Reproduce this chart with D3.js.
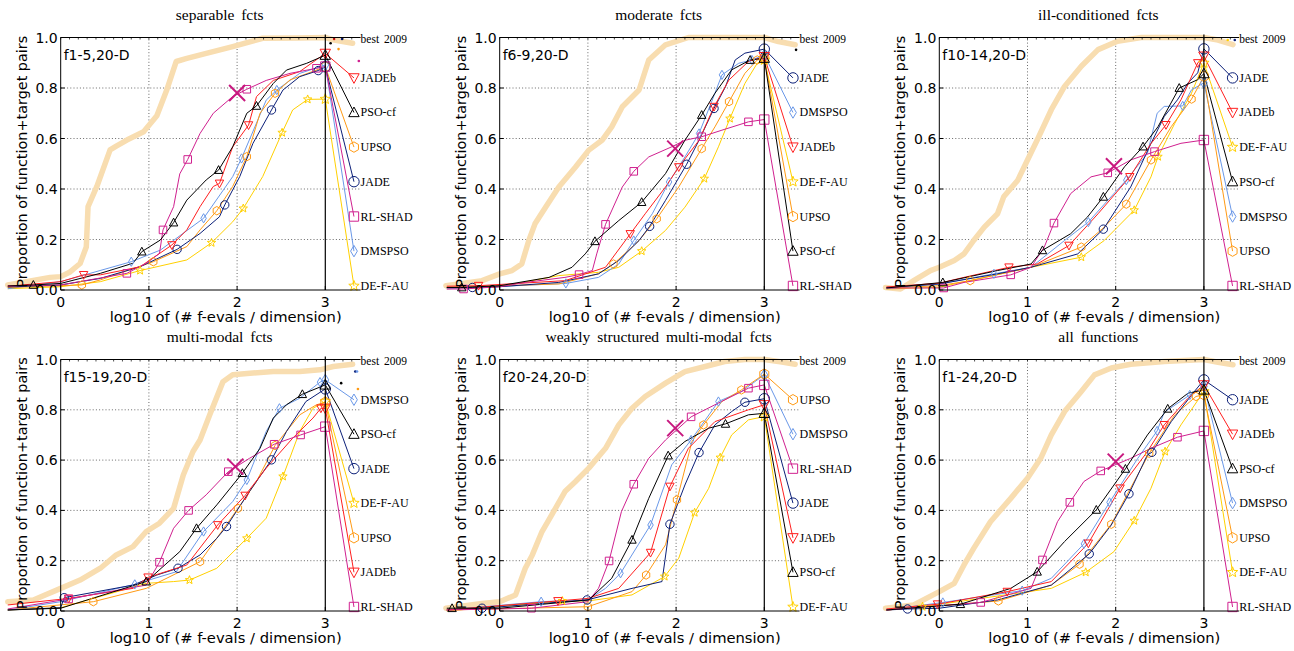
<!DOCTYPE html>
<html><head><meta charset="utf-8">
<script src="https://cdn.jsdelivr.net/npm/d3@7"></script>
<style>body{margin:0;background:#fff}svg{display:block}</style>
</head><body><svg id="c" width="1294" height="651"></svg>
<script>
// ---------------- data ----------------
const titles = ["separable fcts","moderate fcts","ill-conditioned fcts","multi-modal fcts","weakly structured multi-modal fcts","all functions"];
const tags = ["f1-5,20-D","f6-9,20-D","f10-14,20-D","f15-19,20-D","f20-24,20-D","f1-24,20-D"];
const algNames = ["JADE","JADEb","PSO-cf","UPSO","RL-SHAD","DMSPSO","DE-F-AU"];
const xTicks = [0,1,2,3];
const yTicks = [0,0.2,0.4,0.6,0.8,1.0];
const yTickLabels = ["0.0","0.2","0.4","0.6","0.8","1.0"];
const xLabel = "log10 of (# f-evals / dimension)";
const yLabel = "Proportion of function+target pairs";
const refLabel = "best 2009";

// legend order per panel, top to bottom
const legendOrder = [
  ["JADEb","PSO-cf","UPSO","JADE","RL-SHAD","DMSPSO","DE-F-AU"],
  ["JADE","DMSPSO","JADEb","DE-F-AU","UPSO","PSO-cf","RL-SHAD"],
  ["JADE","JADEb","DE-F-AU","PSO-cf","DMSPSO","UPSO","RL-SHAD"],
  ["DMSPSO","PSO-cf","JADE","DE-F-AU","UPSO","JADEb","RL-SHAD"],
  ["UPSO","DMSPSO","RL-SHAD","JADE","JADEb","PSO-cf","DE-F-AU"],
  ["JADE","JADEb","PSO-cf","DMSPSO","UPSO","DE-F-AU","RL-SHAD"]
];

// best 2009 reference curve per panel [log10 evals/dim, proportion]
const best2009 = [
  [[-0.6,0.02],[-0.12,0.05],[0,0.053],[0.1,0.07],[0.22,0.105],[0.29,0.17],[0.31,0.33],[0.41,0.41],[0.56,0.555],[0.63,0.57],[0.75,0.594],[0.94,0.627],[1.09,0.69],[1.2,0.79],[1.31,0.905],[1.43,0.917],[1.65,0.937],[1.95,0.964],[2.29,0.997],[2.7,0.998],[3.0,1.0],[3.1,0.99],[3.31,0.977]],
  [[-0.61,0.017],[-0.2,0.037],[0,0.064],[0.14,0.077],[0.25,0.103],[0.33,0.196],[0.4,0.262],[0.52,0.328],[0.67,0.408],[0.86,0.487],[1.01,0.554],[1.16,0.593],[1.27,0.646],[1.39,0.726],[1.58,0.792],[1.69,0.911],[1.88,0.971],[2.14,1.0],[2.63,1.0],[3.0,1.0],[3.16,0.984],[3.35,0.971]],
  [[-0.61,0.01],[-0.44,0.004],[-0.29,0.037],[-0.1,0.077],[0,0.09],[0.17,0.117],[0.28,0.143],[0.39,0.196],[0.51,0.249],[0.66,0.302],[0.73,0.369],[0.89,0.435],[1.0,0.515],[1.11,0.594],[1.27,0.714],[1.42,0.806],[1.61,0.886],[1.8,0.952],[2.02,0.985],[2.29,1.0],[3.0,1.0],[3.16,0.99],[3.33,0.972]],
  [[-0.6,0.037],[-0.31,0.044],[0,0.09],[0.22,0.123],[0.45,0.17],[0.63,0.223],[0.82,0.256],[0.97,0.316],[1.12,0.349],[1.28,0.408],[1.39,0.541],[1.5,0.634],[1.58,0.68],[1.69,0.78],[1.84,0.912],[1.95,0.939],[2.18,0.946],[2.41,0.952],[2.71,0.952],[2.94,0.959],[3.09,0.972],[3.31,0.981]],
  [[-0.61,0.011],[-0.2,0.03],[0,0.037],[0.18,0.064],[0.29,0.17],[0.37,0.223],[0.48,0.316],[0.59,0.382],[0.74,0.475],[0.86,0.515],[1.01,0.568],[1.2,0.647],[1.35,0.74],[1.5,0.806],[1.65,0.853],[1.88,0.906],[2.1,0.952],[2.33,0.972],[2.55,0.992],[2.78,1.0],[3.0,1.0],[3.2,0.99],[3.35,0.981]],
  [[-0.61,0.011],[-0.29,0.024],[0,0.077],[0.17,0.11],[0.28,0.183],[0.39,0.249],[0.58,0.355],[0.81,0.448],[1.0,0.528],[1.15,0.607],[1.27,0.7],[1.42,0.793],[1.61,0.873],[1.76,0.939],[1.95,0.966],[2.17,0.981],[2.55,0.992],[3.0,1.0],[3.16,0.989],[3.33,0.979]]
];

// algorithm curves: per panel list of [x, y, marker?]
const JADE = [
  [[-0.6,0.012],[0,0.02],[0.45,0.046],[0.9,0.092],[1.32,0.161,1],[1.58,0.224],[1.8,0.29],[1.86,0.337,1],[2.03,0.449],[2.18,0.581],[2.39,0.713,1],[2.52,0.792],[2.71,0.845],[2.92,0.869,1],[3.0,0.884]],
  [[-0.6,0.01],[-0.31,0.01,1],[0,0.013],[0.67,0.03],[1.12,0.064],[1.35,0.117],[1.58,0.196],[1.70,0.252,1],[1.88,0.355],[2.12,0.498,1],[2.26,0.593],[2.43,0.719,1],[2.56,0.805],[2.67,0.911],[2.78,0.938],[3.0,0.954]],
  [[-0.6,0.01],[0,0.024],[0.66,0.064],[1.04,0.09],[1.57,0.143],[1.86,0.241,1],[2.17,0.408],[2.4,0.58],[2.55,0.687],[2.7,0.753],[2.82,0.82],[2.93,0.86],[3.0,0.955]],
  [[-0.6,0.004],[0,0.013],[0.04,0.053,1],[0.82,0.103],[1.09,0.143],[1.33,0.17,1],[1.58,0.223],[1.77,0.289],[1.88,0.336,1],[2.14,0.475],[2.39,0.601,1],[2.56,0.714],[2.78,0.833],[3.0,0.883]],
  [[-0.6,0.004],[-0.2,0.011,1],[0.99,0.044,1],[1.5,0.09],[1.84,0.117],[1.93,0.345,1],[2.1,0.501],[2.26,0.63,1],[2.44,0.74],[2.63,0.793],[2.78,0.83,1],[3.0,0.844]],
  [[-0.6,0.004],[-0.36,0.008,1],[0,0.011],[0.66,0.044],[1.27,0.103],[1.7,0.227,1],[1.95,0.342],[2.15,0.466,1],[2.36,0.621],[2.41,0.631,1],[2.63,0.753],[2.86,0.859],[3.0,0.919]]
];
const JADEb = [
  [[-0.6,0.015],[0,0.033],[0.26,0.06,1],[0.45,0.06],[0.9,0.092],[1.26,0.178,1],[1.43,0.238],[1.58,0.33],[1.73,0.41],[1.8,0.422,1],[1.95,0.567],[2.13,0.653,1],[2.22,0.766],[2.41,0.83],[2.71,0.865],[3.0,0.937]],
  [[-0.6,0.015],[-0.24,0.017,1],[0.74,0.037],[1.2,0.09],[1.48,0.222,1],[1.65,0.302],[1.88,0.408],[2.03,0.487,1],[2.26,0.593],[2.43,0.726,1],[2.6,0.832],[2.82,0.905],[3.0,0.924]],
  [[-0.6,0.012],[0,0.027],[0.28,0.05],[0.79,0.09,1],[1.11,0.103],[1.47,0.176,1],[1.8,0.302],[2.16,0.448,1],[2.4,0.58],[2.57,0.654,1],[2.74,0.753],[2.93,0.899,1],[3.0,0.926]],
  [[-0.6,0.024],[0.09,0.05,1],[0.82,0.09],[0.99,0.134,1],[1.43,0.183],[1.78,0.342,1],[2.09,0.459,1],[2.33,0.568],[2.63,0.687],[2.86,0.767],[2.95,0.806,1],[3.0,0.806]],
  [[-0.6,0.004],[0.66,0.04,1],[1.0,0.05],[1.35,0.09],[1.71,0.232,1],[1.93,0.495,1],[2.14,0.647],[2.44,0.753],[2.82,0.8],[3.0,0.82]],
  [[-0.6,0.008],[-0.02,0.027,1],[0.77,0.077,1],[1.27,0.117],[1.69,0.269,1],[2.05,0.488,1],[2.36,0.634],[2.55,0.74,1],[2.82,0.846],[3.0,0.899]]
];
const PSOcf = [
  [[-0.6,0.016],[-0.31,0.02,1],[0,0.026],[0.45,0.066],[0.82,0.106],[0.92,0.152,1],[1.13,0.198],[1.28,0.267,1],[1.43,0.356],[1.65,0.436],[1.79,0.475,1],[1.95,0.567],[2.11,0.70],[2.22,0.729,1],[2.41,0.818],[2.56,0.871],[2.79,0.898],[3.0,0.93]],
  [[-0.6,0.01],[-0.43,0.01,1],[0,0.017],[0.56,0.05],[0.82,0.09],[0.97,0.143],[1.08,0.193,1],[1.35,0.275],[1.61,0.348,1],[1.88,0.461],[2.10,0.593],[2.29,0.693,1],[2.44,0.779],[2.63,0.872],[2.84,0.911,1],[3.0,0.918]],
  [[-0.6,0.008],[0.04,0.03,1],[0.66,0.077],[1.04,0.103],[1.17,0.157,1],[1.49,0.223],[1.68,0.289],[1.86,0.369,1],[2.1,0.488],[2.31,0.568,1],[2.48,0.647],[2.72,0.8,1],[2.93,0.833],[3.0,0.857]],
  [[-0.6,0.004],[0,0.011],[0.97,0.117,1],[1.35,0.236],[1.54,0.329,1],[1.77,0.422],[2.06,0.548,1],[2.26,0.647],[2.41,0.767],[2.56,0.82],[2.74,0.862,1],[3.0,0.899]],
  [[-0.6,0.011],[-0.54,0.011,1],[0,0.011],[1.01,0.044],[1.27,0.13],[1.5,0.283,1],[1.69,0.448],[1.91,0.618,1],[2.1,0.674],[2.37,0.727],[2.56,0.744,1],[2.82,0.78],[3.0,0.786]],
  [[-0.6,0.004],[0.24,0.027,1],[0.81,0.09],[1.11,0.156,1],[1.42,0.276],[1.78,0.402,1],[2.11,0.565,1],[2.36,0.7],[2.59,0.804,1],[2.82,0.866],[3.0,0.879]]
];
const UPSO = [
  [[-0.6,0.01],[0.24,0.02,1],[0.45,0.04],[1.05,0.112,1],[1.43,0.172],[1.58,0.238],[1.77,0.314,1],[1.95,0.41],[2.11,0.528,1],[2.26,0.70],[2.43,0.779,1],[2.6,0.832],[3.0,0.884]],
  [[-0.6,0.01],[0.67,0.024],[1.12,0.064],[1.29,0.103,1],[1.58,0.196],[1.78,0.282,1],[2.03,0.408],[2.29,0.56,1],[2.44,0.646],[2.6,0.746,1],[2.78,0.858],[2.92,0.911,1],[3.0,0.918]],
  [[-0.6,0.008],[0,0.017],[0.35,0.037,1],[1.04,0.09],[1.61,0.17,1],[1.87,0.249],[2.12,0.34,1],[2.4,0.515,1],[2.63,0.647],[2.86,0.756,1],[3.0,0.846]],
  [[-0.6,0.004],[0.37,0.037,1],[0.97,0.09],[1.58,0.196,1],[2.01,0.408,1],[2.22,0.515],[2.43,0.658,1],[2.71,0.78],[2.9,0.82],[3.0,0.83]],
  [[-0.6,0.004],[1.0,0.017,1],[1.5,0.077],[1.66,0.143,1],[1.88,0.263],[2.01,0.442,1],[2.18,0.674],[2.31,0.74,1],[2.52,0.833],[2.74,0.879,1],[3.0,0.942]],
  [[-0.6,0.004],[0.67,0.04,1],[1.27,0.103],[1.59,0.186,1],[1.95,0.345,1],[2.38,0.627,1],[2.67,0.78],[2.91,0.853,1],[3.0,0.86]]
];
const RLSHAD = [
  [[-0.6,0.016],[0,0.02],[0.75,0.066,1],[0.97,0.106],[1.12,0.145],[1.16,0.238,1],[1.28,0.33],[1.35,0.46],[1.44,0.517,1],[1.58,0.62],[1.73,0.70],[1.95,0.766],[2.11,0.795,1],[2.33,0.83],[2.6,0.858],[2.9,0.878,1],[3.0,0.885]],
  [[-0.6,0.004],[-0.41,0.004,1],[0,0.013],[0.29,0.03],[0.74,0.05],[0.9,0.061,1],[1.05,0.077],[1.10,0.143],[1.2,0.26,1],[1.39,0.408],[1.52,0.47,1],[1.69,0.527],[1.95,0.567],[2.1,0.593],[2.29,0.607,1],[2.52,0.633],[2.82,0.666,1],[3.0,0.675]],
  [[-0.6,0.008],[0.05,0.008,1],[0.28,0.03],[0.81,0.06,1],[1.04,0.09],[1.19,0.17],[1.3,0.265,1],[1.49,0.382],[1.72,0.448],[1.91,0.464,1],[2.17,0.515],[2.44,0.548,1],[2.74,0.581],[3.0,0.594]],
  [[-0.6,0.008],[0.09,0.048,1],[0.97,0.103],[1.12,0.194,1],[1.28,0.329],[1.45,0.4,1],[1.65,0.462],[1.9,0.554,1],[2.14,0.607],[2.42,0.663,1],[2.72,0.7,1],[3.0,0.733]],
  [[-0.6,0.004],[0.36,0.011,1],[1.0,0.037],[1.12,0.09],[1.24,0.199,1],[1.38,0.395],[1.52,0.504,1],[1.69,0.607],[1.88,0.68],[2.17,0.772,1],[2.44,0.82],[2.82,0.886,1],[3.0,0.899]],
  [[-0.6,0.004],[0.47,0.034,1],[1.04,0.09],[1.17,0.203,1],[1.34,0.355],[1.48,0.432,1],[1.64,0.515],[1.83,0.557,1],[2.17,0.607],[2.4,0.647],[2.7,0.691,1],[3.0,0.716]]
];
const DMSPSO = [
  [[-0.6,0.005],[0,0.033],[0.8,0.112,1],[1.13,0.158],[1.62,0.284,1],[1.95,0.449],[2.05,0.521,1],[2.33,0.752],[2.45,0.792,1],[2.71,0.858],[3.0,0.891]],
  [[-0.6,0.005],[0.75,0.026,1],[1.12,0.05],[1.35,0.103],[1.52,0.196,1],[1.73,0.302],[1.92,0.428,1],[2.10,0.527],[2.26,0.62,1],[2.41,0.752],[2.52,0.852,1],[2.71,0.898],[2.86,0.911,1],[3.0,0.931]],
  [[-0.6,0.005],[0,0.024],[0.62,0.064,1],[1.04,0.09],[1.42,0.196],[1.69,0.269,1],[1.91,0.355],[2.12,0.435,1],[2.36,0.541],[2.47,0.7],[2.55,0.727],[2.76,0.729,1],[2.86,0.793],[3.0,0.82]],
  [[-0.6,0.004],[0,0.037],[0.84,0.106,1],[1.31,0.156],[1.62,0.316,1],[1.95,0.435],[2.11,0.521,1],[2.33,0.714],[2.48,0.806,1],[2.71,0.846],[2.94,0.91,1],[3.0,0.919]],
  [[-0.6,0.004],[0.47,0.037,1],[1.0,0.044],[1.2,0.09],[1.37,0.15,1],[1.57,0.263],[1.71,0.342,1],[1.95,0.581],[2.17,0.68,1],[2.48,0.833,1],[2.74,0.873],[3.0,0.939]],
  [[-0.6,0.004],[0.04,0.034,1],[0.94,0.081,1],[1.27,0.13],[1.64,0.267,1],[1.93,0.432,1],[2.25,0.607],[2.47,0.716,1],[2.55,0.79],[2.84,0.859,1],[3.0,0.893]]
];
const DEFAU = [
  [[-0.6,0.005],[0,0.013],[0.45,0.033],[0.9,0.077,1],[1.43,0.119],[1.71,0.187,1],[1.95,0.27],[2.07,0.323,1],[2.29,0.449],[2.51,0.623,1],[2.63,0.713],[2.8,0.755,1],[3.0,0.756]],
  [[-0.6,0.005],[0,0.013],[0.67,0.057],[1.12,0.07],[1.35,0.09],[1.61,0.154,1],[1.88,0.236],[2.10,0.328],[2.32,0.441,1],[2.48,0.567],[2.61,0.679,1],[2.78,0.818],[2.92,0.898],[3.0,0.911]],
  [[-0.6,0.004],[0,0.011],[1.04,0.09],[1.61,0.13,1],[1.87,0.196],[2.21,0.316,1],[2.4,0.448],[2.48,0.528,1],[2.67,0.66],[2.86,0.78],[3.0,0.899]],
  [[-0.6,0.004],[0,0.013],[0.97,0.11],[1.28,0.117],[1.46,0.123,1],[1.77,0.17],[2.11,0.289,1],[2.33,0.369],[2.52,0.535,1],[2.71,0.714],[2.86,0.806],[3.0,0.833]],
  [[-0.6,0.0],[0.71,0.04,1],[1.0,0.04],[1.5,0.064],[1.87,0.137,1],[2.03,0.21],[2.21,0.391,1],[2.37,0.488],[2.5,0.61,1],[2.63,0.7],[2.82,0.76],[3.0,0.773]],
  [[-0.6,0.004],[-0.19,0.017,1],[1.27,0.09],[1.66,0.154,1],[1.98,0.236],[2.21,0.359,1],[2.4,0.488],[2.56,0.634,1],[2.74,0.74],[3.0,0.873]]
];
// RL-SHAD "x" mark at 100 evals/dim
const crossMarks = [[2.0,0.78],[1.99,0.56],[1.98,0.49],[1.98,0.574],[1.99,0.727],[2.0,0.594]];
// small dots beyond the budget
const extraDots = [
  [[3.10,0.994,"JADEb"],[3.19,0.994,"JADE"],[3.06,0.977,"PSO-cf"],[3.15,0.954,"UPSO"],[3.38,0.907,"RL-SHAD"]],
  [[3.36,0.951,"PSO-cf"]],
  [[3.27,0.99,"DE-F-AU"],[3.35,0.99,"JADE"]],
  [[3.34,0.952,"JADE"],[3.36,0.952,"DMSPSO"],[3.18,0.906,"PSO-cf"],[3.37,0.883,"UPSO"]],
  [],
  []
];

// ---------------- styles ----------------
const seriesData = {"JADE":JADE,"JADEb":JADEb,"PSO-cf":PSOcf,"UPSO":UPSO,"RL-SHAD":RLSHAD,"DMSPSO":DMSPSO,"DE-F-AU":DEFAU};
const colors = {"JADE":"#0b1f78","JADEb":"#ff1f1f","PSO-cf":"#000000","UPSO":"#ff9a14","RL-SHAD":"#d0208f","DMSPSO":"#6a98e8","DE-F-AU":"#ffd000"};
const shapes = {"JADE":"circle","JADEb":"tdown","PSO-cf":"tup","UPSO":"hex","RL-SHAD":"square","DMSPSO":"diamond","DE-F-AU":"star"};
const drawOrder = ["DE-F-AU","DMSPSO","UPSO","JADE","JADEb","RL-SHAD","PSO-cf"];
const legendSlots = [0.84,0.703,0.566,0.429,0.291,0.154,0.016];

function symPath(type, r){
  const p = [];
  if(type==="circle"){ return `M${r},0A${r},${r} 0 1,1 ${-r},0A${r},${r} 0 1,1 ${r},0Z`; }
  if(type==="tup"){ return `M0,${-r*1.05}L${r},${r*0.8}L${-r},${r*0.8}Z`; }
  if(type==="tdown"){ return `M0,${r*1.05}L${r},${-r*0.8}L${-r},${-r*0.8}Z`; }
  if(type==="square"){ const s=r*0.9; return `M${-s},${-s}H${s}V${s}H${-s}Z`; }
  if(type==="diamond"){ return `M0,${-r*1.1}L${r*0.65},0L0,${r*1.1}L${-r*0.65},0Z`; }
  if(type==="hex"){ for(let i=0;i<6;i++){const a=Math.PI/3*i-Math.PI/2; p.push([r*Math.cos(a),r*Math.sin(a)]);} }
  if(type==="star"){ for(let i=0;i<10;i++){const a=Math.PI/5*i-Math.PI/2; const rr=i%2?r*0.45:r*1.05; p.push([rr*Math.cos(a),rr*Math.sin(a)]);} }
  return "M"+p.map(d=>d[0].toFixed(2)+","+d[1].toFixed(2)).join("L")+"Z";
}

const svg = d3.select("#c");
const colX0 = [60.7, 499.7, 939.3];
const cellX = [[0,432],[432,864],[864,1294]];
const rows = [{yb:290, yt:37.5, c:[0,325]},{yb:611, yt:359.5, c:[325,651]}];
const dec = 88.2;
const serif = "'Liberation Serif','DejaVu Serif',serif";
const sans = "'DejaVu Sans',sans-serif";

for(let p=0;p<6;p++){
  const col=p%3, row=Math.floor(p/3);
  const x0=colX0[col], R=rows[row];
  const x = d3.scaleLinear().domain([0,3]).range([x0, x0+3*dec]);
  const y = d3.scaleLinear().domain([0,1]).range([R.yb, R.yt]);
  const clipId="clip"+p;
  svg.append("clipPath").attr("id",clipId).append("rect")
    .attr("x",cellX[col][0]).attr("y",R.c[0]).attr("width",cellX[col][1]-cellX[col][0]).attr("height",R.c[1]-R.c[0]);
  const g = svg.append("g").attr("clip-path",`url(#${clipId})`);
  const xr = 3.4;

  // grid
  g.selectAll(".gy").data(yTicks.slice(1)).enter().append("line")
    .attr("x1",x(0)).attr("x2",x(xr)).attr("y1",d=>y(d)).attr("y2",d=>y(d))
    .attr("stroke","#444").attr("stroke-width",0.8).attr("stroke-dasharray","1,2.2");
  g.selectAll(".gx").data([1,2]).enter().append("line")
    .attr("x1",d=>x(d)).attr("x2",d=>x(d)).attr("y1",y(0)).attr("y2",y(1))
    .attr("stroke","#444").attr("stroke-width",0.8).attr("stroke-dasharray","1,2.2");

  const line = d3.line().x(d=>x(d[0])).y(d=>y(d[1]));
  // reference
  g.append("path").attr("d",line(best2009[p])).attr("fill","none")
    .attr("stroke","#f8ddb0").attr("stroke-width",5.5).attr("stroke-linejoin","round").attr("stroke-linecap","round");

  const legY = {};
  legendOrder[p].forEach((n,i)=>legY[n]=legendSlots[i]);

  drawOrder.forEach(name=>{
    const pts = seriesData[name][p].concat([[3.325, legY[name]]]);
    const c = colors[name];
    g.append("path").attr("d",line(pts)).attr("fill","none").attr("stroke",c).attr("stroke-width",1);
  });
  drawOrder.forEach(name=>{
    const data = seriesData[name][p];
    const c = colors[name];
    const mk = data.filter(d=>d[2]===1).map(d=>[d[0],d[1],4.2]);
    const last = data[data.length-1];
    mk.push([last[0],last[1],5.2]);
    mk.push([3.325,legY[name],5.2]);
    g.selectAll(null).data(mk).enter().append("path")
      .attr("d",d=>symPath(shapes[name],d[2]))
      .attr("transform",d=>`translate(${x(d[0])},${y(d[1])})`)
      .attr("fill","none").attr("stroke",c).attr("stroke-width",1);
  });

  // extra dots
  g.selectAll(null).data(extraDots[p]).enter().append("circle")
    .attr("cx",d=>x(d[0])).attr("cy",d=>y(d[1])).attr("r",1.3).attr("fill",d=>colors[d[2]]);

  // cross mark
  const cm = crossMarks[p], cs=8;
  g.append("path").attr("d",`M${x(cm[0])-cs},${y(cm[1])-cs}L${x(cm[0])+cs},${y(cm[1])+cs}M${x(cm[0])-cs},${y(cm[1])+cs}L${x(cm[0])+cs},${y(cm[1])-cs}`)
    .attr("stroke","#c8187f").attr("stroke-width",2).attr("fill","none");

  // spines
  const k = "#000";
  g.append("line").attr("x1",x(0)).attr("x2",x(0)).attr("y1",y(0)).attr("y2",y(1)).attr("stroke",k).attr("stroke-width",1);
  g.append("line").attr("x1",x(0)).attr("x2",x(xr)).attr("y1",y(1)).attr("y2",y(1)).attr("stroke",k).attr("stroke-width",1);
  g.append("line").attr("x1",x(0)).attr("x2",x(xr)).attr("y1",y(0)).attr("y2",y(0)).attr("stroke",k).attr("stroke-width",1);
  g.append("line").attr("x1",x(3)).attr("x2",x(3)).attr("y1",y(0)).attr("y2",y(1)-3).attr("stroke",k).attr("stroke-width",1.2);
  // ticks
  g.selectAll(null).data(yTicks).enter().append("line")
    .attr("x1",x(0)).attr("x2",x(0)+4).attr("y1",d=>y(d)).attr("y2",d=>y(d)).attr("stroke",k);
  g.selectAll(null).data(xTicks).enter().append("line")
    .attr("x1",d=>x(d)).attr("x2",d=>x(d)).attr("y1",y(0)).attr("y2",y(0)-4).attr("stroke",k);
  g.selectAll(null).data(d3.range(0,34).map(i=>i/10)).enter().append("line")
    .attr("x1",d=>x(d)).attr("x2",d=>x(d)).attr("y1",y(1)).attr("y2",y(1)+2).attr("stroke",k).attr("stroke-width",0.7);

  // tick labels
  g.selectAll(null).data(yTicks).enter().append("text")
    .attr("x",x(0)-3).attr("y",d=>y(d)+5).attr("text-anchor","end")
    .attr("font-family",sans).attr("font-size",14).text((d,i)=>yTickLabels[i]);
  g.selectAll(null).data(xTicks).enter().append("text")
    .attr("x",d=>x(d)).attr("y",y(0)+17).attr("text-anchor","middle")
    .attr("font-family",sans).attr("font-size",14).text(d=>d);

  // axis labels
  g.append("text").attr("x",x0+165).attr("y",R.yb+32).attr("text-anchor","middle")
    .attr("font-family",sans).attr("font-size",14).attr("textLength",232).attr("lengthAdjust","spacingAndGlyphs").text(xLabel);
  const ycx = x0-34, ycy = (R.yb+R.yt)/2-2;
  g.append("text").attr("transform",`translate(${ycx},${ycy}) rotate(-90)`).attr("text-anchor","middle")
    .attr("font-family",sans).attr("font-size",13.5).attr("textLength",252).attr("lengthAdjust","spacingAndGlyphs").text(yLabel);

  // title
  g.append("text").attr("x",x0+159).attr("y",R.yt-18).attr("text-anchor","middle")
    .attr("font-family",serif).attr("font-size",15.5).attr("word-spacing",3).text(titles[p]);
  // tag
  g.append("text").attr("x",x0+3).attr("y",R.yt+22).attr("font-family",sans).attr("font-size",14).text(tags[p]);

  // legend labels
  g.append("text").attr("x",x(3.4)).attr("y",y(0.993)+4).attr("font-family",serif).attr("font-size",11.5).attr("word-spacing",2).text(refLabel);
  legendOrder[p].forEach((n,i)=>{
    g.append("text").attr("x",x(3.4)).attr("y",y(legendSlots[i])+4).attr("font-family",serif).attr("font-size",12).text(n);
  });
}
</script></body></html>
